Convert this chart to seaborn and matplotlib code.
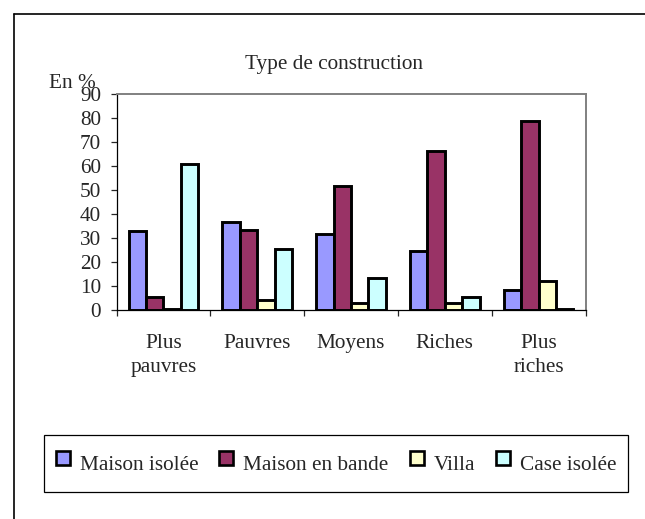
# Type de construction par quintile de richesse
import pandas as pd
import matplotlib.pyplot as plt
from matplotlib.lines import Line2D
import seaborn as sns

sns.set_style("white")
plt.rcParams["font.family"] = ["Liberation Serif", "DejaVu Serif"]

# Data (percent)
categories = ["Plus\npauvres", "Pauvres", "Moyens", "Riches", "Plus\nriches"]
types = ["Maison isolée", "Maison en bande", "Villa", "Case isolée"]
maison_isolee = [33.0, 36.5, 31.7, 24.6, 8.4]
maison_en_bande = [5.6, 33.3, 51.7, 66.4, 78.9]
villa = [0.4, 4.3, 3.1, 3.0, 12.0]
case_isolee = [60.7, 25.4, 13.2, 5.5, 0.4]
colors = ["#9999FF", "#993366", "#FFFFCC", "#CCFFFF"]

FS = 15.3

# Build long table for seaborn
rows = []
for t, vals in zip(types, [maison_isolee, maison_en_bande, villa, case_isolee]):
    for c, v in zip(categories, vals):
        rows.append({"cat": c, "type": t, "pct": v})
df = pd.DataFrame(rows)

fig = plt.figure(figsize=(6.45, 5.19), dpi=100)
ax = fig.add_axes([116.5 / 645, 1 - 310 / 519, 469 / 645, 216 / 519])

sns.barplot(
    data=df, x="cat", y="pct", hue="type", order=categories, hue_order=types,
    palette=dict(zip(types, colors)), edgecolor="black", linewidth=2.1,
    width=0.74, gap=0, saturation=1, legend=False, ax=ax,
)

ax.set_xlim(-0.5, 4.5)
ax.set_ylim(0, 90)
ax.set_yticks(range(0, 91, 10))
ax.set_xlabel("")
ax.set_ylabel("")

# Axis styling
for s in ["top", "right"]:
    ax.spines[s].set_color("#808080")
    ax.spines[s].set_linewidth(1.4)
for s in ["left", "bottom"]:
    ax.spines[s].set_color("black")
    ax.spines[s].set_linewidth(0.9)

ax.tick_params(axis="y", direction="out", length=4, width=0.9, pad=7,
               labelsize=FS, left=True)
ax.set_xticks([i - 0.5 for i in range(6)], minor=True)
ax.tick_params(axis="x", which="minor", direction="out", length=4.5, width=0.9,
               bottom=True)
ax.tick_params(axis="x", which="major", length=0, pad=17, labelsize=FS)
for lbl in ax.get_xticklabels():
    lbl.set_linespacing(1.4)

# Title and unit label
fig.text(334 / 645, 1 - 65 / 519, "Type de construction", ha="center",
         va="center", fontsize=FS)
fig.text(49 / 645, 1 - 88 / 519, "En %", ha="left", va="baseline",
         fontsize=FS)

# Legend at the bottom
handles = [Line2D([], [], marker="s", linestyle="", markersize=10,
                  markerfacecolor=c, markeredgecolor="black",
                  markeredgewidth=1.9) for c in colors]
leg = fig.legend(
    handles, types, loc="center", bbox_to_anchor=(336 / 645, 1 - 463.5 / 519),
    ncol=4, fontsize=FS, frameon=True, fancybox=False, framealpha=1,
    edgecolor="black", handlelength=0.7, handleheight=2.1,
    handletextpad=0.45, columnspacing=0.97, borderpad=0.55,
)
leg.get_frame().set_linewidth(0.9)

# Outer frame (left and top edges visible)
fig.add_artist(Line2D([13.5 / 645, 13.5 / 645], [0, 1 - 13.5 / 519],
                      color="black", linewidth=1.2))
fig.add_artist(Line2D([13.5 / 645, 1], [1 - 13.5 / 519, 1 - 13.5 / 519],
                      color="black", linewidth=1.2))

plt.savefig("out.png", dpi=100)
